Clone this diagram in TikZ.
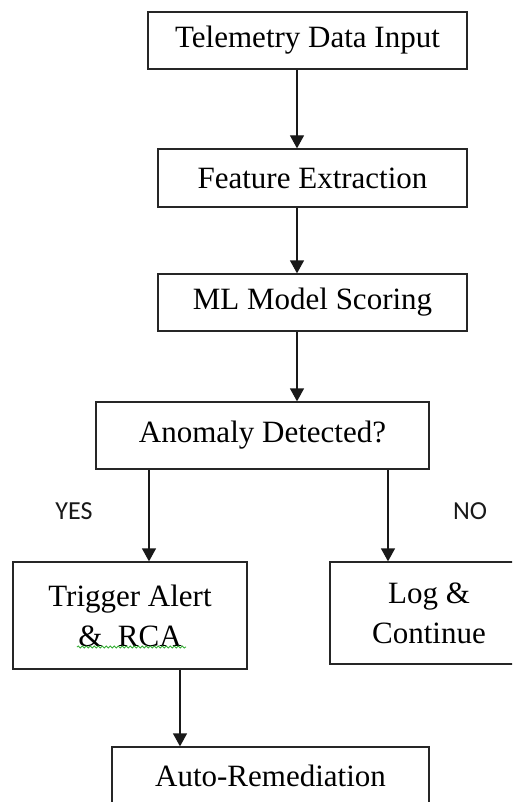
\documentclass[tikz,border=0pt]{standalone}
\usepackage{fontspec}
\setmainfont{Liberation Serif}
\newfontfamily\labelfont{Carlito}
\usetikzlibrary{arrows.meta,decorations.pathmorphing}

\tikzset{
  flowbox/.style={draw=black!85, line width=1.3pt, rectangle, inner sep=0pt,
    align=center, text=black, font={\fontsize{31}{40}\selectfont}},
  flowarrow/.style={draw=black!90, line width=1.3pt,
    -{Triangle[width=14pt,length=13pt]}},
  branchlabel/.style={font={\labelfont\fontsize{26}{30}\selectfont}, text=black!90, inner sep=0pt},
  squiggle/.style={draw=green!60!black!80, line width=0.8pt,
    decorate, decoration={snake, segment length=4pt, amplitude=1.1pt}}
}

\begin{document}
\begin{tikzpicture}[x=1pt, y=-1pt]
  \useasboundingbox (0,0) rectangle (512,802);
  \begin{scope}
    \clip (0,0) rectangle (512,802);

    % process boxes
    \node[flowbox, minimum width=319pt, minimum height=57pt] (input)   at (307.5,40.5)  {Telemetry Data Input};
    \node[flowbox, minimum width=309pt, minimum height=58pt] (feature) at (312.5,178)   {Feature Extraction};
    \node[flowbox, minimum width=309pt, minimum height=57pt] (score)   at (312.5,302.5) {ML Model Scoring};
    \node[flowbox, minimum width=333pt, minimum height=67pt] (detect)  at (262.5,435.5) {Anomaly Detected?};
    \node[flowbox, minimum width=234pt, minimum height=107pt] (alert)  at (130,615.5)   {Trigger Alert\\\&~~RCA};
    \node[flowbox, minimum width=198pt, minimum height=102pt] (logc)   at (429,613)     {Log \&\\Continue};
    \node[flowbox, minimum width=317pt, minimum height=57pt] (remed)   at (270.5,775.5) {Auto-Remediation};

    % vertical positions of the connectors
    \coordinate (mainx)  at (297,0);
    \coordinate (yesx)   at (149,0);
    \coordinate (nox)    at (388,0);
    \coordinate (remedx) at (180,0);

    % connectors
    \draw[flowarrow] (input.south -| mainx)   -- (feature.north -| mainx);
    \draw[flowarrow] (feature.south -| mainx) -- (score.north -| mainx);
    \draw[flowarrow] (score.south -| mainx)   -- (detect.north -| mainx);
    \draw[flowarrow] (detect.south -| yesx)   -- (alert.north -| yesx);
    \draw[flowarrow] (detect.south -| nox)    -- (logc.north -| nox);
    \draw[flowarrow] (alert.south -| remedx)  -- (remed.north -| remedx);

    % branch labels
    \node[branchlabel] (yes) at (74,511) {YES};
    \node[branchlabel] (no)  at (470,511) {NO};

    % spell-check underline under the second line of the alert box
    \coordinate (sqa) at (77,647);
    \coordinate (sqb) at (186,647);
    \draw[squiggle] (sqa) -- (sqb);
  \end{scope}
\end{tikzpicture}
\end{document}
